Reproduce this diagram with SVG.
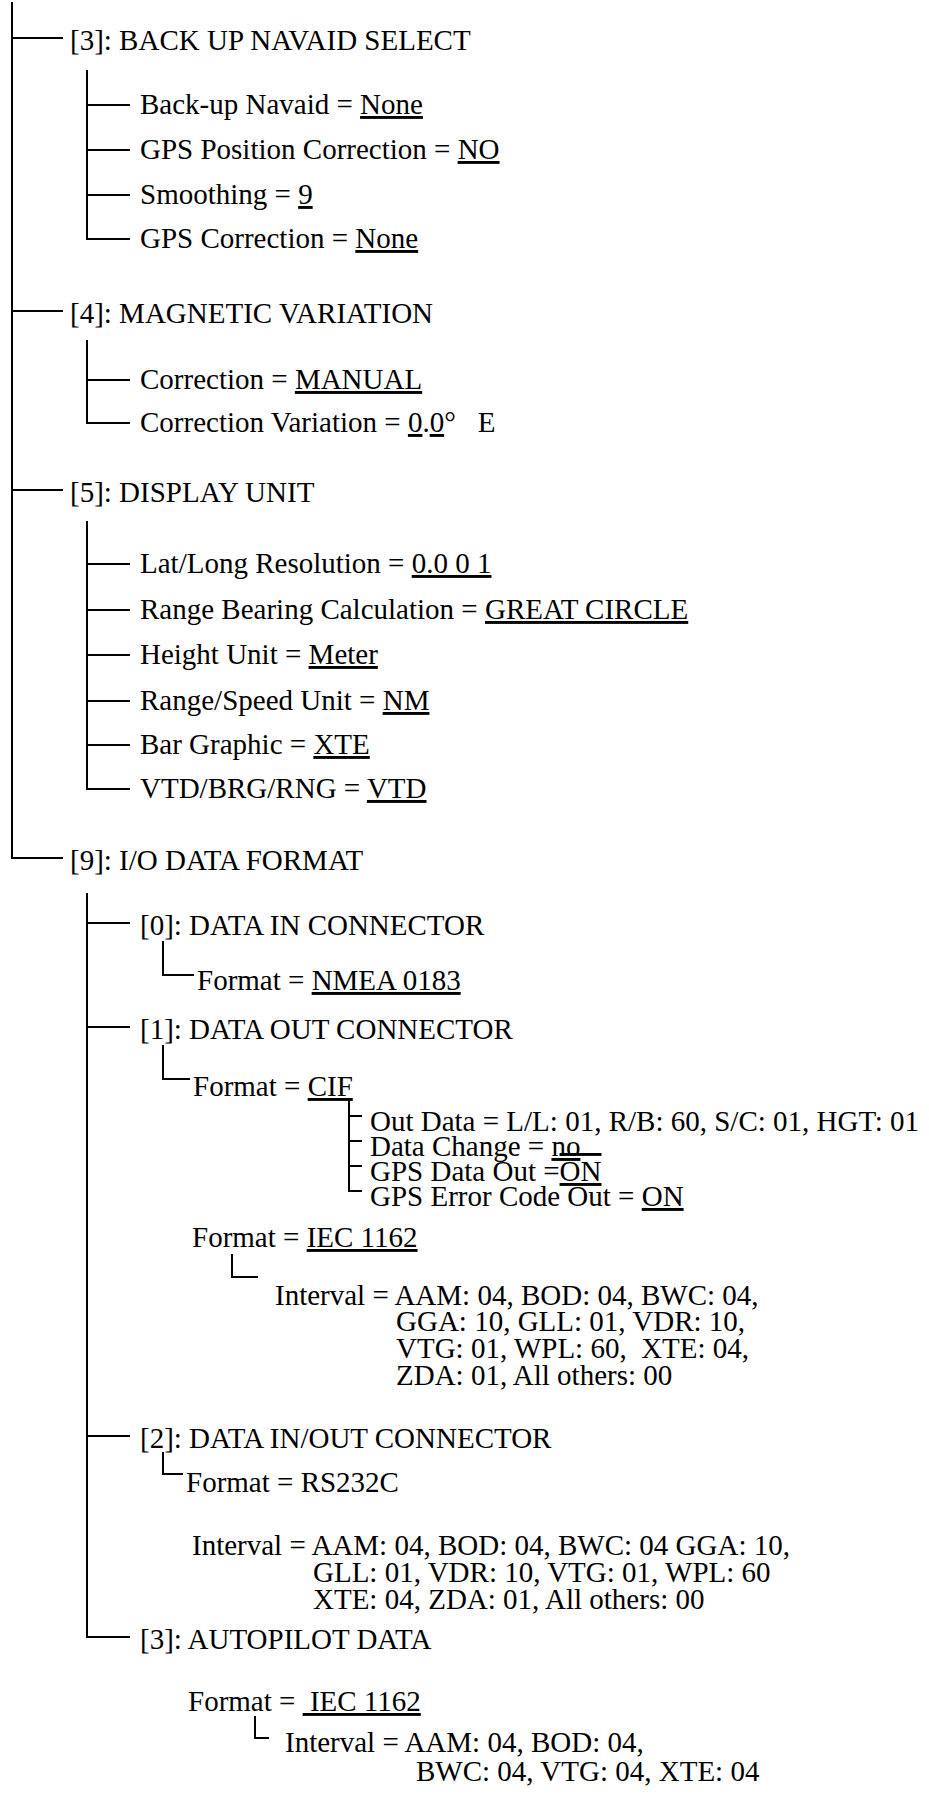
<svg xmlns="http://www.w3.org/2000/svg" width="929" height="1820" viewBox="0 0 929 1820">
<style>
.t{font-family:"Liberation Serif","Times New Roman",serif;font-size:29px;fill:#000}
.u{text-decoration:underline}
.uo{text-decoration:underline overline}
.c path{stroke:#000;stroke-width:2;fill:none}
</style>
<rect width="929" height="1820" fill="#fff"/>
<g id="connectors" class="c">
<path d="M12,2 V858 H63 M12,38 H63 M12,311 H63 M12,490 H63"/>
<path d="M87,70 V239 H130 M87,105 H130 M87,150 H130 M87,195 H130"/>
<path d="M87,340 V423 H130 M87,380 H130"/>
<path d="M87,521 V789 H130 M87,564 H130 M87,610 H130 M87,655 H130 M87,701 H130 M87,745 H130"/>
<path d="M87,893 V1637 H130 M87,923 H130 M87,1027 H130 M87,1436 H130"/>
<path d="M163,941 V975 H194"/>
<path d="M163,1045 V1079 H190"/>
<path d="M349,1100 V1191 H362 M349,1116 H362 M349,1141 H362 M349,1166 H362"/>
<path d="M232,1254 V1277 H258"/>
<path d="M163,1452 V1474 H183"/>
<path d="M255,1716 V1738 H269"/>
</g>
<g id="n3"><text class="t" x="70" y="50">[3]: BACK UP NAVAID SELECT</text></g>
<g id="n3-1"><text class="t" x="140" y="114">Back-up Navaid = <tspan class="u">None</tspan></text></g>
<g id="n3-2"><text class="t" x="140" y="159">GPS Position Correction = <tspan class="u">NO</tspan></text></g>
<g id="n3-3"><text class="t" x="140" y="204">Smoothing = <tspan class="u">9</tspan></text></g>
<g id="n3-4"><text class="t" x="140" y="248">GPS Correction = <tspan class="u">None</tspan></text></g>
<g id="n4"><text class="t" x="70" y="323">[4]: MAGNETIC VARIATION</text></g>
<g id="n4-1"><text class="t" x="140" y="389">Correction = <tspan class="u">MANUAL</tspan></text></g>
<g id="n4-2"><text class="t" x="140" y="432">Correction Variation = <tspan class="u">0</tspan>.<tspan class="u">0</tspan>°<tspan dx="22">E</tspan></text></g>
<g id="n5"><text class="t" x="70" y="502">[5]: DISPLAY UNIT</text></g>
<g id="n5-1"><text class="t" x="140" y="573">Lat/Long Resolution = <tspan class="u">0.0 0 1</tspan></text></g>
<g id="n5-2"><text class="t" x="140" y="619">Range Bearing Calculation = <tspan class="u">GREAT CIRCLE</tspan></text></g>
<g id="n5-3"><text class="t" x="140" y="664">Height Unit = <tspan class="u">Meter</tspan></text></g>
<g id="n5-4"><text class="t" x="140" y="710">Range/Speed Unit = <tspan class="u">NM</tspan></text></g>
<g id="n5-5"><text class="t" x="140" y="754">Bar Graphic = <tspan class="u">XTE</tspan></text></g>
<g id="n5-6"><text class="t" x="140" y="798">VTD/BRG/RNG = <tspan class="u">VTD</tspan></text></g>
<g id="n9"><text class="t" x="70" y="870">[9]: I/O DATA FORMAT</text></g>
<g id="n9-0"><text class="t" x="140" y="935">[0]: DATA IN CONNECTOR</text></g>
<g id="n9-0-f"><text class="t" x="197" y="990">Format = <tspan class="u">NMEA 0183</tspan></text></g>
<g id="n9-1"><text class="t" x="140" y="1039">[1]: DATA OUT CONNECTOR</text></g>
<g id="n9-1-cif"><text class="t" x="193" y="1096">Format = <tspan class="u">CIF</tspan></text></g>
<g id="n9-1-cif-1"><text class="t" x="370" y="1131">Out Data = L/L: 01, R/B: 60, S/C: 01, HGT: 01</text></g>
<g id="n9-1-cif-2"><text class="t" x="370" y="1156">Data Change = <tspan class="u">no</tspan></text></g>
<g id="n9-1-cif-3"><text class="t" x="370" y="1181">GPS Data Out =<tspan class="uo">ON</tspan></text></g>
<g id="n9-1-cif-4"><text class="t" x="370" y="1206">GPS Error Code Out = <tspan class="u">ON</tspan></text></g>
<g id="n9-1-iec"><text class="t" x="192" y="1247">Format = <tspan class="u">IEC 1162</tspan></text></g>
<g id="n9-1-iec-int">
<text class="t" x="275" y="1305">Interval = AAM: 04, BOD: 04, BWC: 04,</text>
<text class="t" x="396" y="1331">GGA: 10, GLL: 01, VDR: 10,</text>
<text class="t" x="396" y="1358" xml:space="preserve">VTG: 01, WPL: 60,  XTE: 04,</text>
<text class="t" x="396" y="1385">ZDA: 01, All others: 00</text>
</g>
<g id="n9-2"><text class="t" x="140" y="1448">[2]: DATA IN/OUT CONNECTOR</text></g>
<g id="n9-2-f"><text class="t" x="186" y="1492">Format = RS232C</text></g>
<g id="n9-2-int">
<text class="t" x="192" y="1555">Interval = AAM: 04, BOD: 04, BWC: 04 GGA: 10,</text>
<text class="t" x="313" y="1582">GLL: 01, VDR: 10, VTG: 01, WPL: 60</text>
<text class="t" x="313" y="1609">XTE: 04, ZDA: 01, All others: 00</text>
</g>
<g id="n9-3"><text class="t" x="140" y="1649">[3]: AUTOPILOT DATA</text></g>
<g id="n9-3-f"><text class="t" x="188" y="1711" xml:space="preserve">Format = <tspan class="u"> IEC 1162</tspan></text></g>
<g id="n9-3-int">
<text class="t" x="285" y="1752">Interval = AAM: 04, BOD: 04,</text>
<text class="t" x="416" y="1781">BWC: 04, VTG: 04, XTE: 04</text>
</g>
</svg>
